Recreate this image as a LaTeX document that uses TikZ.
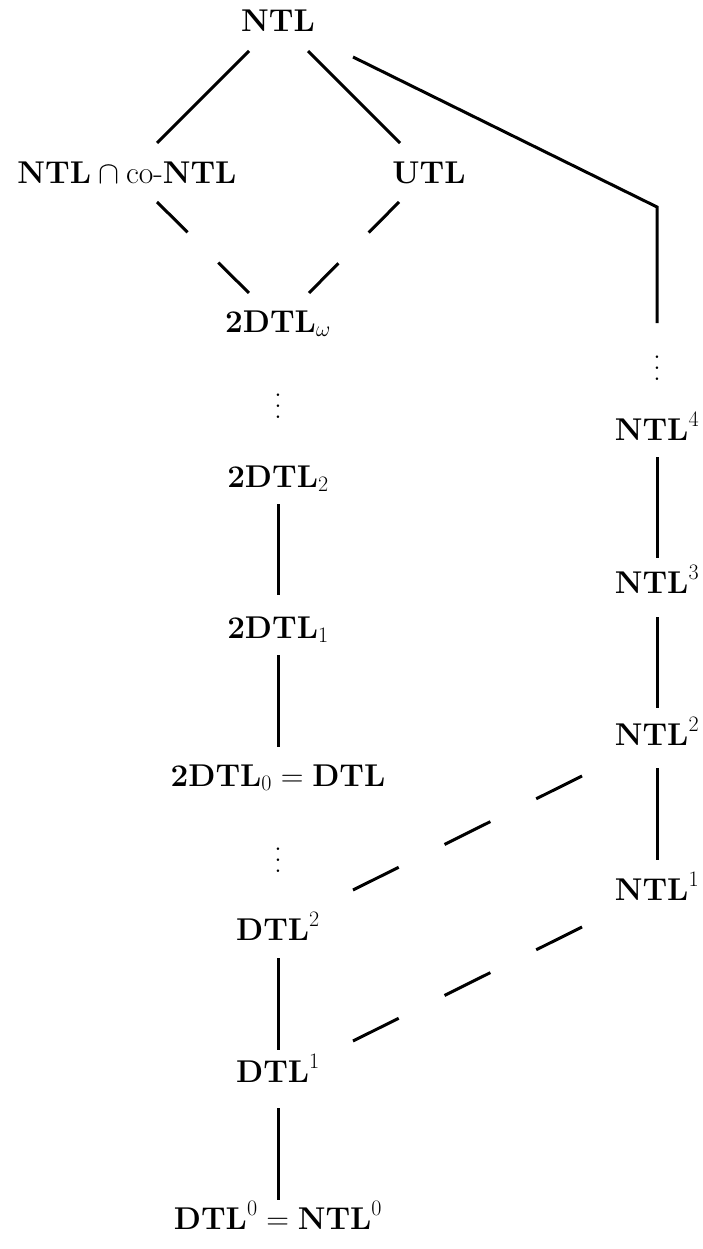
\RequirePackage{fix-cm}
\documentclass[tikz,border=0pt]{standalone}
\usetikzlibrary{calc}
\newcommand\vdotsx{\vbox{\baselineskip=11pt\lineskiplimit=-20pt\hbox{.}\hbox{.}\hbox{.}}}
\begin{document}
\begin{tikzpicture}[x=1pt,y=-1pt,
  lbl/.style={anchor=base,inner sep=0pt,font=\fontsize{31.5}{38}\selectfont},
  dts/.style={anchor=center,inner sep=0pt,font=\fontsize{31.5}{38}\selectfont},
  conn/.style={line width=3pt},
  dconn/.style={line width=3pt,dash pattern=on 43.1pt off 43.1pt},
  lconn/.style={line width=3pt,dash pattern=on 51.2pt off 51.2pt}]
\useasboundingbox (0,0) rectangle (702,1249);
% left / top nodes
\node[lbl] (NTL) at (278,32) {$\mathbf{NTL}$};
\node[lbl] (A) at (127,184) {$\mathbf{NTL}\cap\mbox{co-}\mathbf{NTL}$};
\node[lbl] (U) at (429,184) {$\mathbf{UTL}$};
\node[lbl] (W) at (278,332) {$\mathbf{2DTL}_\omega$};
\node[dts] (ld1) at (278,406) {\vdotsx};
\node[lbl] (D2) at (278,487) {$\mathbf{2DTL}_2$};
\node[lbl] (D1) at (278,638) {$\mathbf{2DTL}_1$};
\node[lbl] (D0) at (278,786) {$\mathbf{2DTL}_0=\mathbf{DTL}$};
\node[dts] (ld2) at (278,860) {\vdotsx};
\node[lbl] (T2) at (278,940) {$\mathbf{DTL}^2$};
\node[lbl] (T1) at (278,1082) {$\mathbf{DTL}^1$};
\node[lbl] (T0) at (278,1229) {$\mathbf{DTL}^0=\mathbf{NTL}^0$};
% right column
\node[dts] (rd) at (657,368) {\vdotsx};
\node[lbl] (N4) at (657,440) {$\mathbf{NTL}^4$};
\node[lbl] (N3) at (657,593) {$\mathbf{NTL}^3$};
\node[lbl] (N2) at (657,745) {$\mathbf{NTL}^2$};
\node[lbl] (N1) at (657,900) {$\mathbf{NTL}^1$};
\coordinate (corner) at (657,207);
\coordinate (vend) at (657,323);
% connectors
\draw[conn] ($(NTL.base)+(-29,19)$) -- ($(A.base)+(30,-41)$);
\draw[conn] ($(NTL.base)+(30,19)$) -- ($(U.base)+(-29,-41)$);
\draw[conn,line join=miter] ($(NTL.base)+(75,25)$) -- (corner) -- (vend);
\draw[dconn] ($(A.base)+(30,18)$) -- ($(W.base)+(-29,-39)$);
\draw[dconn] ($(U.base)+(-30,18)$) -- ($(W.base)+(31,-39)$);
\draw[conn] ($(D2.base)+(0,17)$) -- ($(D1.base)+(0,-43)$);
\draw[conn] ($(D1.base)+(0,17)$) -- ($(D0.base)+(0,-39)$);
\draw[conn] ($(T2.base)+(0,18)$) -- ($(T1.base)+(0,-32)$);
\draw[conn] ($(T1.base)+(0,26)$) -- ($(T0.base)+(0,-29)$);
\draw[conn] ($(N4.base)+(0,17)$) -- ($(N3.base)+(0,-35)$);
\draw[conn] ($(N3.base)+(0,24)$) -- ($(N2.base)+(0,-37)$);
\draw[conn] ($(N2.base)+(0,23)$) -- ($(N1.base)+(0,-40)$);
\draw[lconn] ($(N2.base)+(-75,31)$) -- ($(T2.base)+(75,-50)$);
\draw[lconn] ($(N1.base)+(-75,27)$) -- ($(T1.base)+(75,-41)$);
\end{tikzpicture}
\end{document}
